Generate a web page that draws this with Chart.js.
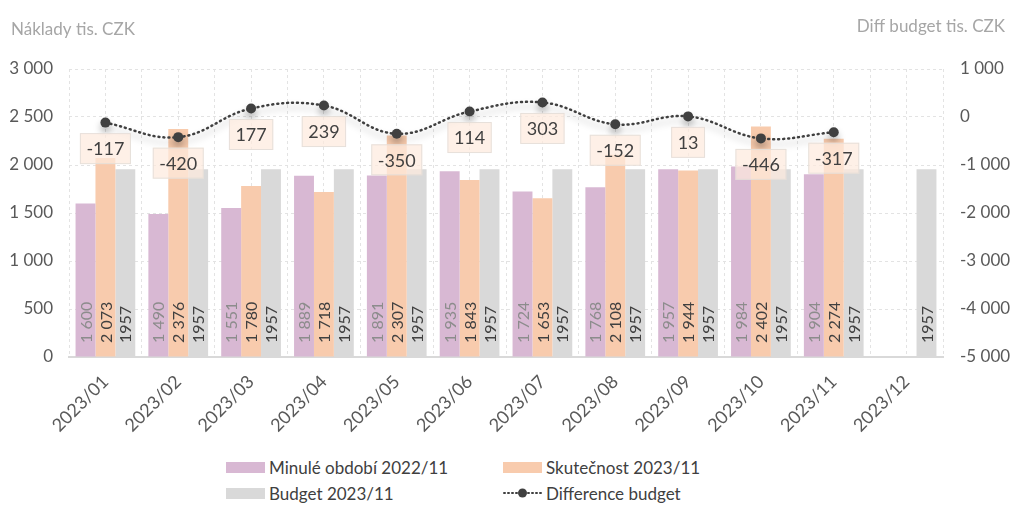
<!DOCTYPE html>
<html>
<head>
<meta charset="utf-8">
<script src="https://cdn.jsdelivr.net/npm/chart.js@4"></script>
<style>
  body { margin: 0; background: #fff; font-family: Lato, sans-serif; }
  #wrap { position: relative; width: 1011px; height: 505px; }
  #c { position: absolute; left: 0; top: 0; }
  .lg { position: absolute; font-size: 17px; color: #404040; display: flex; align-items: center; white-space: nowrap; height: 24px; }
  .sw { display: inline-block; width: 39px; height: 11px; margin-right: 4px; }
</style>
</head>
<body>
<div id="wrap">
  <canvas id="c" width="1011" height="450" style="width:1011px;height:450px"></canvas>
  <div id="legend"></div>
</div>
<script>
// data
const months = ['2023/01', '2023/02', '2023/03', '2023/04', '2023/05', '2023/06',
                '2023/07', '2023/08', '2023/09', '2023/10', '2023/11', '2023/12'];
const lastYear = [1600, 1490, 1551, 1889, 1891, 1935, 1724, 1768, 1957, 1984, 1904, null];
const actual = [2073, 2376, 1780, 1718, 2307, 1843, 1653, 2108, 1944, 2402, 2274, null];
const budget = [1957, 1957, 1957, 1957, 1957, 1957, 1957, 1957, 1957, 1957, 1957, 1957];
const diff = [-117, -420, 177, 239, -350, 114, 303, -152, 13, -446, -317, null];

const FONT = 'Lato';
const TXT = '#404040';

function fmt(v) {
  const s = Math.abs(v).toString().replace(/\B(?=(\d{3})+(?!\d))/g, ' ');
  return (v < 0 ? '-' : '') + s;
}

// axis titles on top
const titles = {
  id: 'titles',
  afterDraw(chart) {
    const ctx = chart.ctx;
    ctx.save();
    ctx.font = '17px ' + FONT;
    ctx.fillStyle = '#a6a6a6';
    ctx.textBaseline = 'middle';
    ctx.textAlign = 'left';
    ctx.fillText('Náklady tis. CZK', 11, 30);
    ctx.textAlign = 'right';
    ctx.fillText('Diff budget tis. CZK', 1005, 27);
    ctx.restore();
  }
};

// soft shadow under the difference line
const lineShadow = {
  id: 'lineShadow',
  beforeDatasetDraw(chart, args) {
    if (args.index !== 3) return;
    const ctx = chart.ctx;
    ctx.save();
    ctx.shadowColor = 'rgba(0,0,0,0.28)';
    ctx.shadowBlur = 7;
    ctx.shadowOffsetY = 5;
  },
  afterDatasetDraw(chart, args) {
    if (args.index === 3) chart.ctx.restore();
  }
};

// value labels
const valueLabels = {
  id: 'valueLabels',
  afterDatasetsDraw(chart) {
    const ctx = chart.ctx;
    const area = chart.chartArea;
    const colors = ['#8c8c8c', TXT, TXT];
    for (let d = 0; d < 3; d++) {
      const ds = chart.data.datasets[d];
      chart.getDatasetMeta(d).data.forEach((bar, i) => {
        const v = ds.data[i];
        if (v == null) return;
        const t = d === 2 ? String(v) : fmt(v);
        ctx.save();
        ctx.translate(bar.x, area.bottom - 14);
        ctx.rotate(-Math.PI / 2);
        ctx.font = '16px ' + FONT;
        ctx.fillStyle = colors[d];
        ctx.textAlign = 'left';
        ctx.textBaseline = 'middle';
        ctx.fillText(t, 0, 1);
        ctx.restore();
      });
    }
    const ds = chart.data.datasets[3];
    chart.getDatasetMeta(3).data.forEach((p, i) => {
      const v = ds.data[i];
      if (v == null) return;
      const t = fmt(v);
      ctx.save();
      ctx.font = '18px ' + FONT;
      const w = ctx.measureText(t).width + 13;
      const h = 31;
      const cx = p.x, cy = p.y + 26;
      ctx.fillStyle = 'rgba(253,234,222,0.72)';
      ctx.fillRect(cx - w / 2, cy - h / 2, w, h);
      ctx.strokeStyle = 'rgba(225,220,215,0.8)';
      ctx.lineWidth = 1;
      ctx.strokeRect(cx - w / 2 + 0.5, cy - h / 2 + 0.5, w - 1, h - 1);
      ctx.fillStyle = TXT;
      ctx.textAlign = 'center';
      ctx.textBaseline = 'middle';
      ctx.fillText(t, cx, cy + 1);
      ctx.restore();
    });
  }
};

const chart = new Chart(document.getElementById('c'), {
  data: {
    labels: months,
    datasets: [
      { type: 'bar', label: 'Minulé období 2022/11', data: lastYear, backgroundColor: '#d8b8d3',
        xAxisID: 'x', yAxisID: 'y', order: 1 },
      { type: 'bar', label: 'Skutečnost 2023/11', data: actual, backgroundColor: '#f8cbad',
        xAxisID: 'x', yAxisID: 'y', order: 1 },
      { type: 'bar', label: 'Budget 2023/11', data: budget, backgroundColor: '#d9d9d9',
        xAxisID: 'x', yAxisID: 'y', order: 1 },
      { type: 'line', label: 'Difference budget', data: diff, xAxisID: 'x', yAxisID: 'y2', order: 0,
        borderColor: '#404040', borderWidth: 2.5, borderDash: [1, 4], borderCapStyle: 'round',
        tension: 0.4, pointRadius: 5, pointBackgroundColor: '#404040', pointBorderWidth: 0 }
    ]
  },
  options: {
    responsive: false,
    animation: false,
    layout: { padding: { top: 69, left: 0, right: 0, bottom: 0 } },
    datasets: { bar: { barPercentage: 1, categoryPercentage: 0.82 } },
    plugins: { legend: { display: false }, tooltip: { enabled: false } },
    scales: {
      x: {
        type: 'category', offset: true,
        grid: { display: false },
        border: { display: true, color: '#d9d9d9', width: 2 },
        ticks: { color: '#595959', font: { size: 18, family: FONT }, maxRotation: 45, minRotation: 45, padding: 6 },
        afterFit(s) { s.height = 93; }
      },
      xg: {
        type: 'linear', min: 0, max: 12, position: 'bottom',
        ticks: { display: false, stepSize: 0.5 },
        grid: { color: '#e3e3e3', drawTicks: false },
        border: { display: false, dash: [3, 3] },
        afterFit(s) { s.height = 0; }
      },
      y: {
        position: 'left', min: 0, max: 3000,
        ticks: { stepSize: 500, color: '#595959', font: { size: 17, family: FONT }, padding: 16, callback: v => fmt(v) },
        grid: { color: '#e3e3e3', drawTicks: false },
        border: { display: false, dash: [3, 3] },
        afterFit(s) { s.width = 69; }
      },
      y2: {
        position: 'right', min: -5000, max: 1000,
        ticks: { stepSize: 1000, color: '#595959', font: { size: 17, family: FONT }, padding: 17, callback: v => fmt(v) },
        grid: { display: false, drawTicks: false },
        border: { display: false },
        afterFit(s) { s.width = 68; }
      }
    }
  },
  plugins: [titles, lineShadow, valueLabels]
});

// legend in two columns
const legendPos = [[226, 455], [503, 455], [226, 481], [503, 481]];
const legend = document.getElementById('legend');
chart.data.datasets.forEach((ds, i) => {
  const item = document.createElement('div');
  item.className = 'lg';
  item.style.left = legendPos[i][0] + 'px';
  item.style.top = legendPos[i][1] + 'px';
  let sym;
  if (ds.type === 'bar') {
    sym = '<span class="sw" style="background:' + ds.backgroundColor + '"></span>';
  } else {
    sym = '<svg width="39" height="12" style="margin-right:4px"><line x1="1" y1="6" x2="38" y2="6" stroke="' +
      ds.borderColor + '" stroke-width="2" stroke-dasharray="1 3" stroke-linecap="round"/>' +
      '<circle cx="19.5" cy="6" r="4.5" fill="' + ds.borderColor + '"/></svg>';
  }
  item.innerHTML = sym + '<span>' + ds.label + '</span>';
  legend.appendChild(item);
});
</script>
</body>
</html>
